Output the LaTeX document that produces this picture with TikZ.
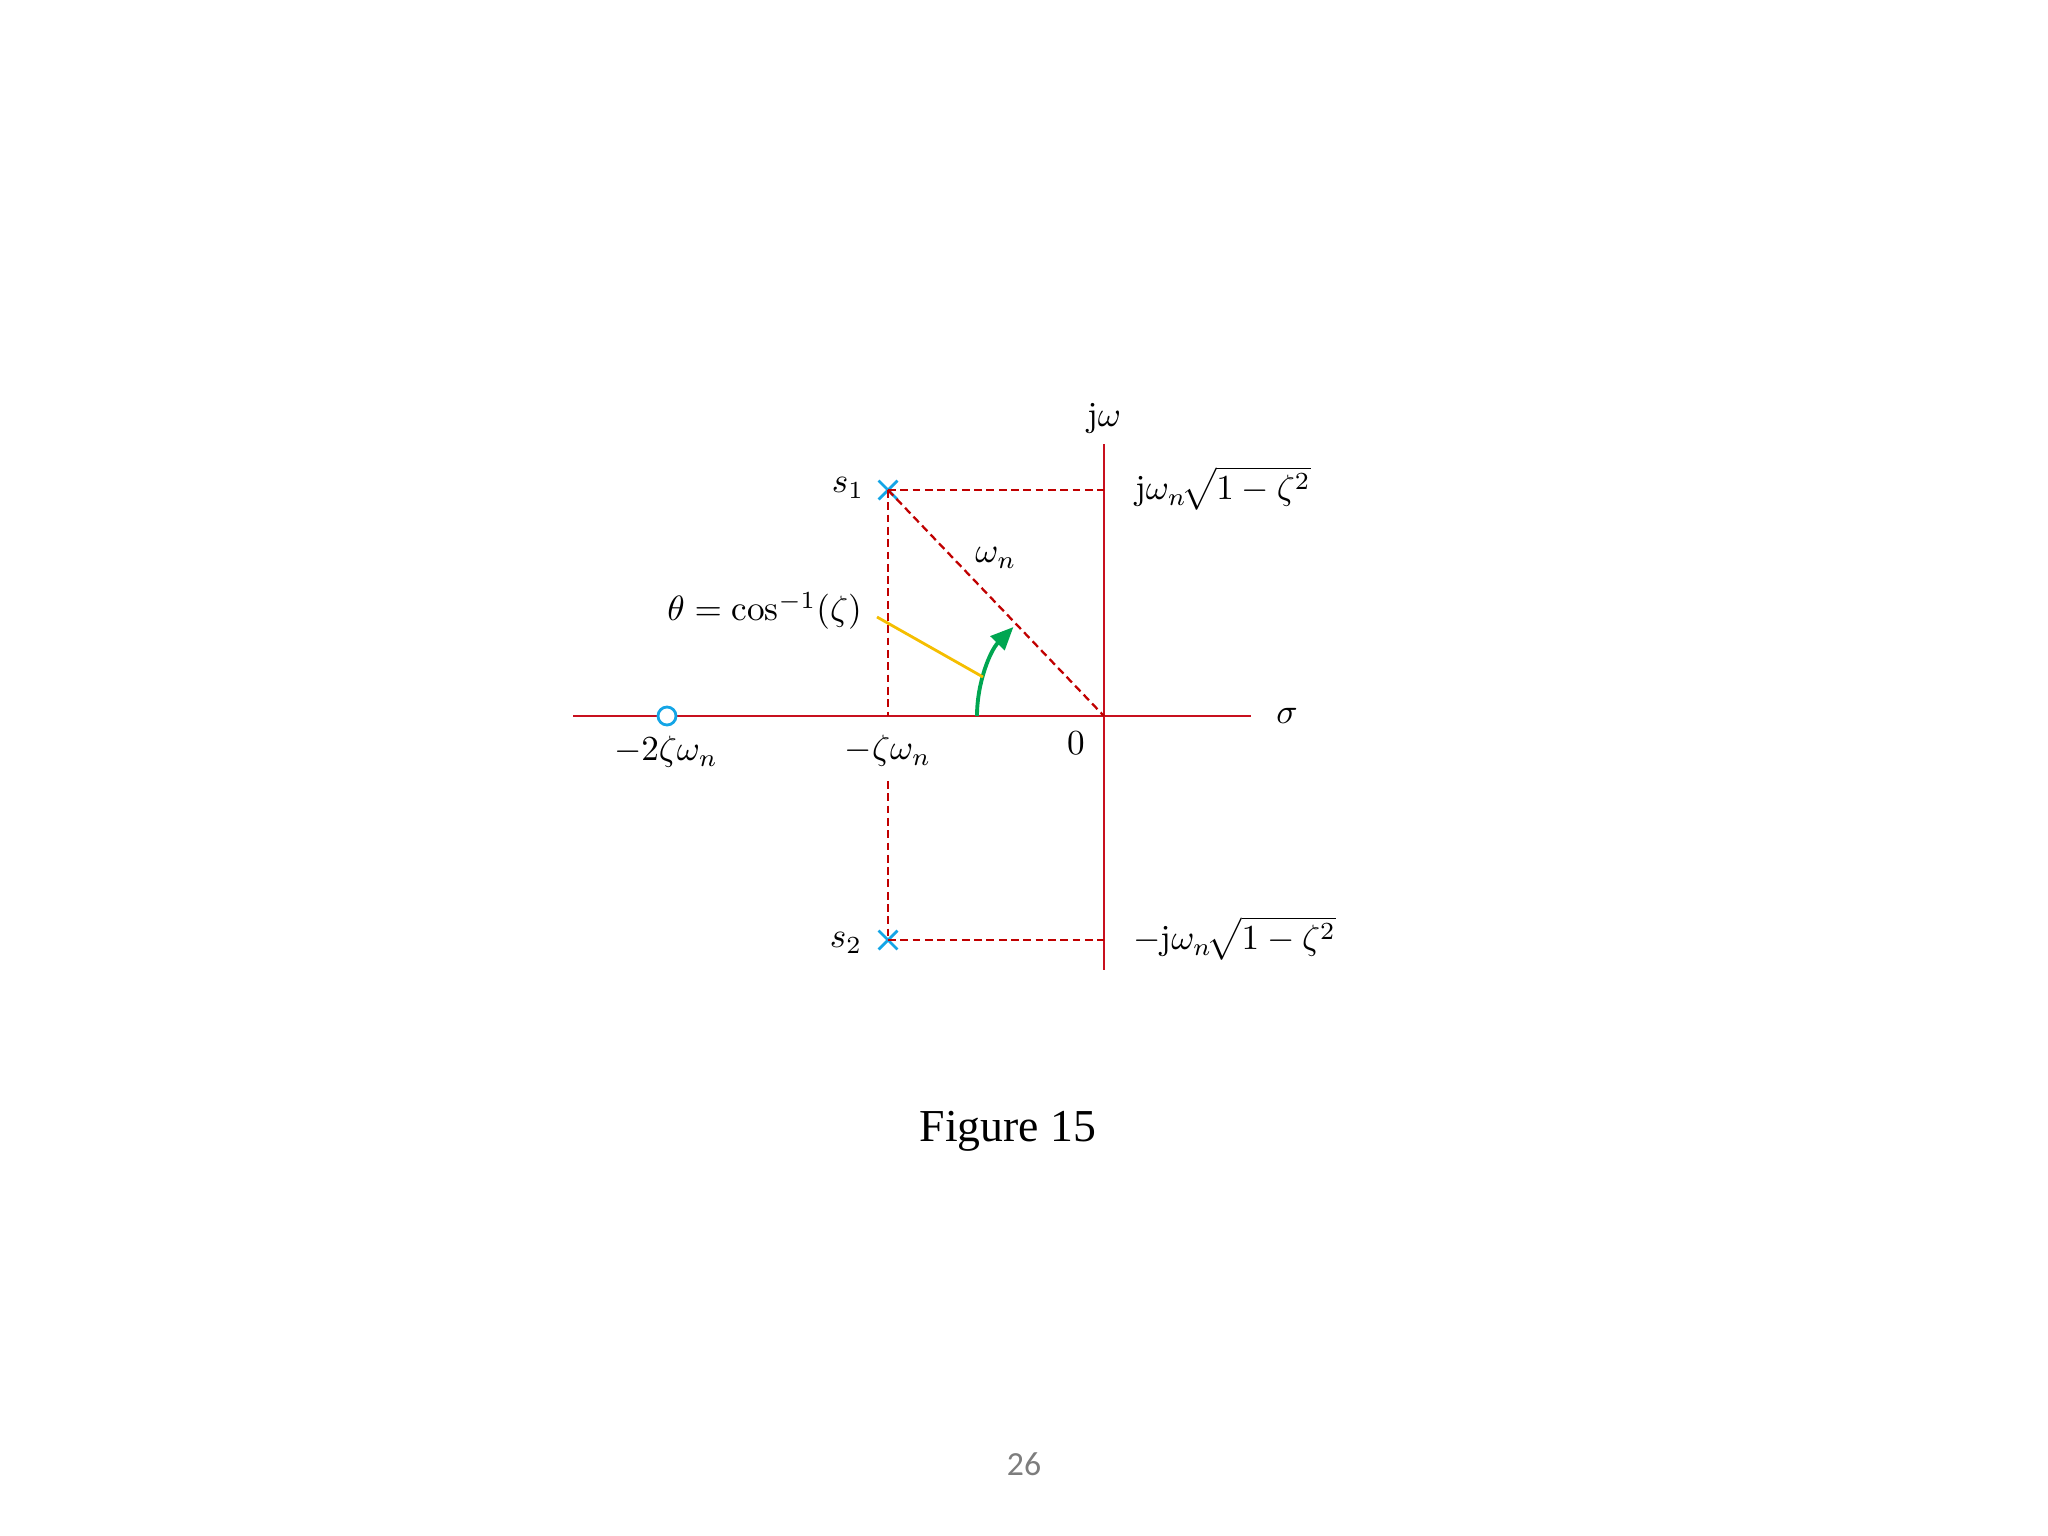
\documentclass[tikz,border=0pt]{standalone}
\usepackage{fontspec}
\newfontfamily\figfont{Liberation Serif}
\newfontfamily\pagefont{Carlito}
\usetikzlibrary{arrows.meta,shapes.misc}
\definecolor{axred}{RGB}{200,16,30}
\definecolor{dashred}{RGB}{192,0,0}
\definecolor{polecyan}{RGB}{20,165,230}
\definecolor{arcgreen}{RGB}{0,166,81}
\definecolor{leadyellow}{RGB}{245,190,0}
\definecolor{pagegray}{RGB}{125,125,125}
\tikzset{
  axis/.style={draw=axred, line width=0.7pt},
  guide/.style={draw=dashred, line width=0.65pt, dash pattern=on 2.2pt off 1.3pt},
  pole/.style={cross out, draw=polecyan, line width=0.8pt, minimum size=0.16cm, inner sep=0pt},
  zero/.style={circle, draw=polecyan, line width=0.8pt, fill=white, minimum size=0.18cm, inner sep=0pt},
  lbl/.style={inner sep=1pt, font=\fontsize{10}{12}\selectfont},
}
\begin{document}
\begin{tikzpicture}[x=0.01cm,y=-0.01cm]
\useasboundingbox (0,0) rectangle (2048,1536);
% key points
\coordinate (O) at (1104,716);
\coordinate (xl) at (573,716);
\coordinate (xr) at (1251,716);
\coordinate (yt) at (1104,444);
\coordinate (yb) at (1104,970);
\coordinate (a1) at (888,716);
\coordinate (a2) at (888,781);
\coordinate (j1) at (1104,490);
\coordinate (j2) at (1104,940);
\coordinate (arcs) at (977,716);
\coordinate (yl) at (877,617);
\coordinate (ye) at (983,677);
% axes
\draw[axis] (xl) -- (xr);
\draw[axis] (yt) -- (yb);
% poles
\node[pole] (s1) at (888,490) {};
\node[pole] (s2) at (888,940) {};
% guides
\draw[guide] (s1.center) -- (j1);
\draw[guide] (s2.center) -- (j2);
\draw[guide] (s1.center) -- (a1);
\draw[guide] (a2) -- (s2.center);
\draw[guide] (s1.center) -- (O);
% zero
\node[zero] (z) at (667,716) {};
% angle arc
\draw[draw=arcgreen, line width=1.1pt, -{Triangle[length=6.5pt,width=5.5pt]}] (arcs) arc[start angle=180, end angle=224.5, radius=127];
\draw[draw=leadyellow, line width=0.8pt] (yl) -- (ye);
% labels
\node[lbl] (ljw) at (1104,419) {$\mathrm{j}\omega$};
\node[lbl] (ls1) at (848,488) {$s_1$};
\node[lbl] (ls2) at (846,943) {$s_2$};
\node[lbl] (lwn) at (996,558) {$\omega_n$};
\node[lbl, anchor=east] (lth) at (866,611) {$\theta = \cos^{-1}(\zeta)$};
\node[lbl, anchor=west] (lj1) at (1131,488) {$\mathrm{j}\omega_n\!\sqrt{1-\zeta^2}$};
\node[lbl, anchor=west] (lj2) at (1129,938) {$-\mathrm{j}\omega_n\!\sqrt{1-\zeta^2}$};
\node[lbl] (lsig) at (1287,716) {$\sigma$};
\node[lbl] (l0) at (1076,743) {$0$};
\node[lbl] (lzw) at (888,751) {$-\zeta\omega_n$};
\node[lbl] (l2zw) at (666,752) {$-2\zeta\omega_n$};
\node[font=\figfont\fontsize{13}{15}\selectfont] (fig) at (1008,1131) {Figure 15};
\node[font=\pagefont\fontsize{9.6}{11}\selectfont, text=pagegray] (pg) at (1024,1464) {26};
\end{tikzpicture}
\end{document}
